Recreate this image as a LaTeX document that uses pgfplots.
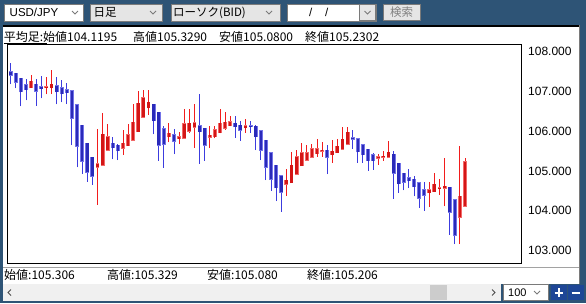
\documentclass[border=0pt]{standalone}
\usepackage{pgfplots}
\pgfplotsset{compat=1.18}
\usepackage{pgfplotstable}
\usepackage{fontspec}
\setmainfont{Liberation Sans}
\newfontfamily\jp{Noto Sans CJK JP}

\definecolor{frameblue}{RGB}{46,84,118}
\definecolor{bodyblue}{RGB}{42,42,185}
\definecolor{edgeblue}{RGB}{115,115,232}
\definecolor{wickblue}{RGB}{60,60,222}
\definecolor{bodyred}{RGB}{212,22,22}
\definecolor{edgered}{RGB}{242,105,105}
\definecolor{wickred}{RGB}{242,28,28}
\definecolor{uigray}{RGB}{122,122,122}
\definecolor{uilight}{RGB}{229,229,229}
\definecolor{btnblue}{RGB}{30,70,150}

% heikin-ashi candles: up (red)
\pgfplotstableread{
x o h l c
5 107.09 107.41 107.09 107.25
8 107.09 107.36 106.92 107.11
9 107.09 107.54 106.93 107.18
18 105.10 106.05 104.15 105.18
19 105.14 106.46 105.14 105.92
20 105.52 106.19 105.52 105.86
23 105.57 106.04 105.41 105.69
24 105.63 106.19 105.63 105.91
25 105.77 106.68 105.77 106.22
26 105.99 107.01 105.99 106.70
27 106.35 107.04 106.35 106.83
28 106.59 107.04 106.41 106.72
32 105.86 106.20 105.72 105.94
34 105.81 105.99 105.67 105.85
35 105.82 106.56 105.82 106.19
36 106.00 106.55 105.94 106.20
37 106.10 106.68 105.58 106.21
40 105.85 106.14 105.57 105.89
41 105.86 106.13 105.82 106.04
42 105.96 106.55 105.94 106.20
43 106.07 106.49 106.04 106.22
44 106.14 106.38 106.12 106.24
47 106.09 106.30 105.96 106.14
55 104.66 105.06 104.37 104.76
56 104.70 105.48 104.70 105.14
57 104.92 105.52 104.92 105.36
58 105.13 105.69 105.13 105.46
59 105.27 105.66 105.25 105.45
60 105.35 105.68 105.33 105.55
61 105.43 105.79 105.36 105.55
62 105.49 105.72 105.36 105.52
64 105.41 105.78 105.21 105.49
65 105.46 105.79 105.46 105.62
66 105.55 106.10 105.55 105.79
67 105.67 106.10 105.67 105.97
73 105.32 105.42 105.16 105.35
74 105.34 105.49 105.25 105.37
75 105.34 105.74 105.34 105.47
83 104.45 104.72 104.10 104.52
84 104.48 104.94 104.48 104.66
85 104.55 104.79 104.40 104.58
86 104.57 105.33 104.11 104.61
89 103.84 105.63 103.16 104.36
90 104.12 105.33 104.12 105.23
}\upcandles

% down (blue)
\pgfplotstableread{
x o h l c
1 107.49 107.72 107.18 107.41
2 107.45 107.46 107.08 107.23
3 107.33 107.33 106.62 106.99
4 107.17 107.31 106.77 107.04
6 107.18 107.31 106.64 107.01
7 107.11 107.39 106.82 107.07
10 107.14 107.36 106.67 106.99
11 107.08 107.29 106.72 106.94
12 107.03 107.22 106.68 106.97
13 107.01 107.01 105.65 106.32
14 106.66 106.66 105.09 105.62
15 106.15 106.15 104.93 105.25
16 105.69 105.69 104.73 104.96
17 105.34 105.34 104.65 104.86
21 105.69 105.84 105.29 105.58
22 105.64 105.67 105.27 105.51
29 106.67 106.67 105.92 106.26
30 106.47 106.47 105.25 105.64
31 106.05 106.14 105.08 105.67
33 105.91 106.05 105.42 105.74
38 106.14 106.93 105.18 105.99
39 106.07 106.07 105.26 105.65
45 106.20 106.38 105.83 106.11
46 106.15 106.26 105.76 106.03
48 106.13 106.25 105.96 106.11
49 106.12 106.15 105.52 105.86
50 106.00 106.00 105.27 105.52
51 105.77 105.77 104.77 105.10
52 105.45 105.45 104.50 104.80
53 105.14 105.14 104.24 104.58
54 104.87 104.87 103.97 104.46
63 105.52 105.65 104.92 105.34
68 105.83 106.03 105.55 105.80
69 105.80 105.80 105.21 105.48
70 105.66 105.66 105.21 105.41
71 105.54 105.54 105.00 105.26
72 105.40 105.46 105.03 105.26
76 105.42 105.50 104.30 104.95
77 105.19 105.19 104.45 104.68
78 104.94 104.94 104.51 104.72
79 104.83 105.04 104.57 104.75
80 104.79 104.87 104.36 104.60
81 104.70 104.70 104.08 104.32
82 104.52 104.72 104.00 104.39
87 104.59 104.59 103.40 103.97
88 104.28 104.28 103.16 103.38
}\downcandles

\pgfplotsset{
  candle/.style n args={2}{only marks, mark=*, mark options={opacity=0, draw=none, fill=none}, mark size=0.1pt, forget plot,
    error bars/.cd, y dir=plus, y explicit, error mark=none,
    error bar style={line width=#1, line cap=butt, color=#2, opacity=1}},
}

\begin{document}
\begin{tikzpicture}
\begin{scope}[x=1pt,y=-1pt]
  % frame
  \fill[frameblue] (0,0) rectangle (586,303);
  % toolbar
  \fill[white] (4.5,4) rectangle (83,21); \draw[uigray,line width=0.8pt] (4.5,4) rectangle (83,21);
  \node[anchor=west,inner sep=0pt] at (9.5,12.5) {\fontsize{11.5}{13}\selectfont USD/JPY};
  \draw[uigray,line width=0.8pt] (72,11) -- (75,14) -- (78,11);
  \fill[uilight] (90,4) rectangle (162.5,21); \draw[uigray,line width=0.8pt] (90,4) rectangle (162.5,21);
  \node[anchor=west,inner sep=0pt] at (93.5,12.5) {\jp\fontsize{11.5}{13}\selectfont 日足};
  \draw[uigray,line width=0.8pt] (150,11) -- (153,14) -- (156,11);
  \fill[uilight] (171,4) rectangle (280,21); \draw[uigray,line width=0.8pt] (171,4) rectangle (280,21);
  \node[anchor=west,inner sep=0pt] at (173,12.5) {\jp\fontsize{11.5}{13}\selectfont ローソク(BID)};
  \draw[uigray,line width=0.8pt] (266,11) -- (269,14) -- (272,11);
  \fill[white] (287,4) rectangle (376,21); \draw[uigray,line width=0.8pt] (287,4) rectangle (376,21);
  \node[anchor=west,inner sep=0pt] at (309,12.5) {\fontsize{11.5}{13}\selectfont /};
  \node[anchor=west,inner sep=0pt] at (325,12.5) {\fontsize{11.5}{13}\selectfont /};
  \fill[uilight] (359,4.5) rectangle (375.5,20.5); \draw[uigray,line width=0.6pt] (359,4.5) rectangle (375.5,20.5);
  \draw[uigray,line width=0.8pt] (364.5,11) -- (367.5,14) -- (370.5,11);
  \fill[uilight] (383,4.3) rectangle (420,20.7); \draw[uigray,line width=0.8pt] (383,4.3) rectangle (420,20.7);
  \node[inner sep=0pt,text=gray] at (401.5,12.5) {\jp\fontsize{11.5}{13}\selectfont 検索};
  % chart panel
  \fill[white] (3.3,25) rectangle (579,284);
  \fill[black] (3.3,25) rectangle (579,27.3);
  \draw[uigray,line width=0.8pt] (579.4,25) -- (579.4,284);
  \node[anchor=west,inner sep=0pt] at (3.7,37) {\jp\fontsize{12}{14}\selectfont 平均足:始値104.1195};
  \node[anchor=west,inner sep=0pt] at (133,37) {\jp\fontsize{12}{14}\selectfont 高値105.3290};
  \node[anchor=west,inner sep=0pt] at (219,37) {\jp\fontsize{12}{14}\selectfont 安値105.0800};
  \node[anchor=west,inner sep=0pt] at (305,37) {\jp\fontsize{12}{14}\selectfont 終値105.2302};
  \draw[black,line width=0.8pt] (3.7,43.6) -- (47,43.6);
  \draw[uigray!70,line width=0.8pt] (3.3,267) -- (579,267);
  \node[anchor=west,inner sep=0pt] at (4,275) {\jp\fontsize{12}{14}\selectfont 始値:105.306};
  \node[anchor=west,inner sep=0pt] at (107,275) {\jp\fontsize{12}{14}\selectfont 高値:105.329};
  \node[anchor=west,inner sep=0pt] at (207,275) {\jp\fontsize{12}{14}\selectfont 安値:105.080};
  \node[anchor=west,inner sep=0pt] at (307,275) {\jp\fontsize{12}{14}\selectfont 終値:105.206};
  % scrollbar
  \fill[black!6] (3.3,284) rectangle (501,301);
  \fill[black!20] (430,285) rectangle (447,300);
  \draw[black!70,line width=0.8pt] (11,289.5) -- (8,292.5) -- (11,295.5);
  \draw[black!70,line width=0.8pt] (492,289.5) -- (495,292.5) -- (492,295.5);
  \fill[white] (503,284.5) rectangle (548,300.5); \draw[uigray,line width=0.6pt] (503,284.5) rectangle (548,300.5);
  \node[anchor=west,inner sep=0pt] at (508,292.5) {\fontsize{11}{13}\selectfont 100};
  \draw[uigray,line width=0.8pt] (534,291) -- (537,294) -- (540,291);
  \fill[btnblue] (551,285) rectangle (566.5,300);
  \fill[btnblue] (568,285) rectangle (583.5,300);
  \draw[white,line width=2pt] (554.5,292.5) -- (563,292.5) (558.75,288.3) -- (558.75,296.7);
  \draw[white,line width=2pt] (571.5,292.5) -- (580,292.5);
\end{scope}
\begin{axis}[
  at={(7pt,-263pt)}, anchor=south west,
  scale only axis, width=514pt, height=218.5pt,
  xmin=0.275, xmax=100.96, ymin=102.686, ymax=108.176,
  axis line style={black, line width=0.8pt},
  xtick=\empty,
  ytick={103,104,105,106,107,108},
  yticklabel pos=right,
  major tick length=0pt,
  yticklabel style={anchor=west, inner sep=0pt, xshift=7pt, font=\fontsize{12}{14}\selectfont,
    /pgf/number format/.cd, fixed, fixed zerofill, precision=3, assume math mode=true},
  clip=true,
]
% wicks
\addplot[candle={1pt}{wickblue}]
  table[x=x, y=l, y error plus expr={\thisrow{h}-\thisrow{l}}] {\downcandles};
\addplot[candle={1pt}{wickred}]
  table[x=x, y=l, y error plus expr={\thisrow{h}-\thisrow{l}}] {\upcandles};
% bodies: light edge
\addplot[candle={3.9pt}{edgeblue}]
  table[x=x, y expr={\thisrow{c}-0.016}, y error plus expr={\thisrow{o}-\thisrow{c}+0.032}] {\downcandles};
\addplot[candle={3.9pt}{edgered}]
  table[x=x, y expr={\thisrow{o}-0.016}, y error plus expr={\thisrow{c}-\thisrow{o}+0.032}] {\upcandles};
% bodies: core
\addplot[candle={2.5pt}{bodyblue}]
  table[x=x, y=c, y error plus expr={\thisrow{o}-\thisrow{c}}] {\downcandles};
\addplot[candle={2.5pt}{bodyred}]
  table[x=x, y=o, y error plus expr={\thisrow{c}-\thisrow{o}}] {\upcandles};
\end{axis}
\end{tikzpicture}
\end{document}
